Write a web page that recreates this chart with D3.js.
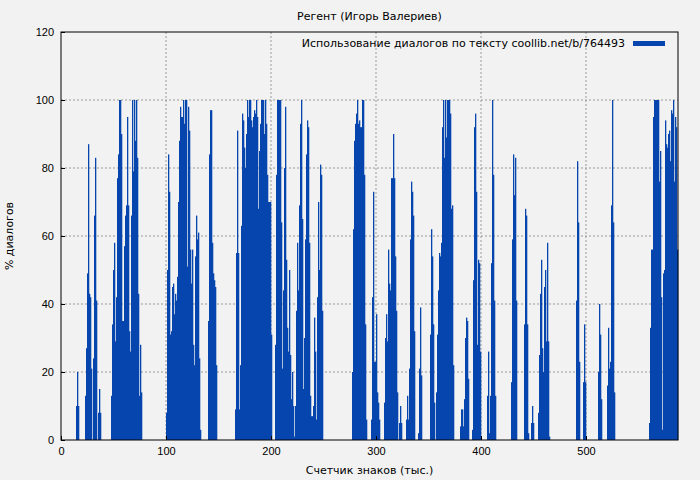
<!DOCTYPE html>
<html>
<head>
<meta charset="utf-8">
<script src="https://cdn.jsdelivr.net/npm/d3@7"></script>
<style>
  body { margin: 0; background: #f2f2f2; }
  svg { font-family: "DejaVu Sans", sans-serif; }
</style>
</head>
<body>
<div id="chart"></div>
<script>
// % диалогов per ~0.95 тыс. знаков
const STEP = 1 / 1.05;
const partA = [0,0,0,0,0,0,0,0,0,0,0,0,0,0,0, 10,20,10, 0,0,0,0,0,0,
  13,27,49,87,43,42,21, 0, 24,66,83,41, 0, 8,15,8, 0,0,0,0,0,0,0,0,0,0,
  13,34,50,58,29,42,77,84,100,100,90,35,35,57,66,69,95,69,32,26,66,100,79,100,88,100,83,43,13,28,14,
  0,0,0,0,0,0,0,0,0,0,0,0,0,0,0,0,0,0,0,0,0,0,0,0];
const partB = [8,50,84,73,31,32,45,46,37,43,41,48,70,88,98,95,95,100,93,100,100,51,98,91,56,46,56,28,22,54,66,59,61,24,3,
  0,0,0,0,0,0,0, 35,84,97,97,58,49,47,45,22,
  0,0,0,0,0,0,0,0,0,0,0,0,0,0,0,0,0,0,
  9,55,91,55,9,22,63,96,94,86,80,90,100,95,100,100,94,92,95,97,96,100,95,68,85,93,100,100,100,90,100,93,78,70,70];
const partC = [70,31, 0,0,0,
  28,78,100,100,100,100,64,21,44,80,98,53,33,26,50,25,12,20,10,1,10,38,58,44,69,93,100,65,15,30,59,84,94,92,58,13,7,7,10,36,26,6,42,70,50,81,78,38,
  0,0,0,0,0,0,0,0,0,0,0,0,0,0,0,0,0,0,0,0,0,0,0,0,0,0,0,0,0,
  20,62,88,93,96,100,93,94,92,92,100,100,78,34, 6, 0,0,0,0, 6,42,73,23];
const partD = [23,37,14,11,6, 0,0,0,0, 11,30,37,29,56,46,44,77,77,90,77,54,38,14, 0, 5,10,5, 0,0,0,0,
  6,13,6,21,59,76,73,66,32, 0,0,0, 2,21,39,19, 0,0,0,0,0,0,0,0, 31,62,54,34,11, 0,
  14,31,44,55,54,58,92,100,83,100,89,100,100,100,96,68,69,22, 0,0,0,0,0,0,
  4,9,9,4,12,30,36,35,18, 0,0,0, 3,47,92,96,73,28,53,52];
const partE = [26, 0,0,0,0,0,0, 13,26,2,13,52,100,78,41,13, 0,0,0,0,0,0,0,0,0,0,0,0,0,0,0,
  17,59,84,72,83,41, 0,0,0,0,0,0,0, 34,68,66,34,2, 0,0, 5,10,5, 0,0,0,0,
  8,25,43,53,27,20,45,50,29,58,29,1,
  0,0,0,0,0,0,0,0,0,0,0,0,0,0,0,0,0,0,0,0,0,0,0,0,0,0,
  41,82,64,23, 0,0,0, 17,34,17, 0,0,0,0,0,0,0,0,0,0,0,0, 20,40,31,12, 0,0,0,0,0,
  16,33,21,23,69,100,64,14,
  0,0,0,0,0,0,0,0,0,0,0,0,0,0,0,0,0,0,0,0,0,0,0,0,0,0,0,0,0,0,0,0,0,0,
  5,33,56,56,95,100,100,100,100,100,76,85,42,3,49,50,94,87,86,90,91,82,97,96,100,76,95,92,56];
const xTicks = [0, 100, 200, 300, 400, 500];
const yTicks = [0, 20, 40, 60, 80, 100, 120];

const values = partA.concat(partB, partC, partD, partE);
const data = values.map((v, i) => ({ x: i * STEP, v: v }));

const width = 700, height = 480;
const margin = { top: 32, right: 22, bottom: 40, left: 61 };
const color = '#0645ad';

const svg = d3.select('#chart').append('svg')
    .attr('width', width).attr('height', height);

const x = d3.scaleLinear()
    .domain([0, values.length * STEP])
    .range([margin.left, width - margin.right]);
const y = d3.scaleLinear()
    .domain([0, 120])
    .range([height - margin.bottom, margin.top]);

// сетка
svg.append('g').selectAll('line.gy')
    .data(yTicks.slice(1, -1)).enter().append('line')
    .attr('x1', margin.left).attr('x2', width - margin.right)
    .attr('y1', d => y(d)).attr('y2', d => y(d))
    .style('stroke', '#999').style('stroke-dasharray', '2,2');
svg.append('g').selectAll('line.gx')
    .data(xTicks.slice(1)).enter().append('line')
    .attr('x1', d => x(d)).attr('x2', d => x(d))
    .attr('y1', margin.top).attr('y2', height - margin.bottom)
    .style('stroke', '#999').style('stroke-dasharray', '2,2');

// столбцы
svg.append('g').selectAll('rect')
    .data(data.filter(d => d.v > 0)).enter().append('rect')
    .attr('x', d => x(d.x))
    .attr('width', x(STEP) - x(0) + 0.3)
    .attr('y', d => y(d.v))
    .attr('height', d => y(0) - y(d.v))
    .style('fill', color);

// оси
const xAxis = svg.append('g')
    .attr('transform', `translate(0,${height - margin.bottom})`)
    .call(d3.axisBottom(x).tickValues(xTicks).tickSizeInner(-4).tickSizeOuter(0).tickPadding(7));
const yAxis = svg.append('g')
    .attr('transform', `translate(${margin.left},0)`)
    .call(d3.axisLeft(y).tickValues(yTicks).tickSizeInner(-4).tickSizeOuter(0).tickPadding(7));
[xAxis, yAxis].forEach(a => {
    a.select('.domain').remove();
    a.selectAll('text').style('font-size', '11px').style('fill', '#000');
});

svg.append('rect')
    .attr('x', margin.left).attr('y', margin.top)
    .attr('width', width - margin.left - margin.right)
    .attr('height', height - margin.top - margin.bottom)
    .style('fill', 'none').style('stroke', '#000');

// подписи
svg.append('text')
    .attr('x', (margin.left + width - margin.right) / 2).attr('y', 20)
    .attr('text-anchor', 'middle').style('font-size', '11px')
    .text('Регент (Игорь Валериев)');
svg.append('text')
    .attr('x', (margin.left + width - margin.right) / 2).attr('y', 474)
    .attr('text-anchor', 'middle').style('font-size', '11px')
    .text('Счетчик знаков (тыс.)');
svg.append('text')
    .attr('transform', `translate(13,${(margin.top + height - margin.bottom) / 2}) rotate(-90)`)
    .attr('text-anchor', 'middle').style('font-size', '11px')
    .text('% диалогов');

// легенда
svg.append('text')
    .attr('x', 625).attr('y', 47)
    .attr('text-anchor', 'end').style('font-size', '11px')
    .text('Использование диалогов по тексту coollib.net/b/764493');
svg.append('rect')
    .attr('x', 633).attr('y', 41).attr('width', 32).attr('height', 5)
    .style('fill', color);
</script>
</body>
</html>
